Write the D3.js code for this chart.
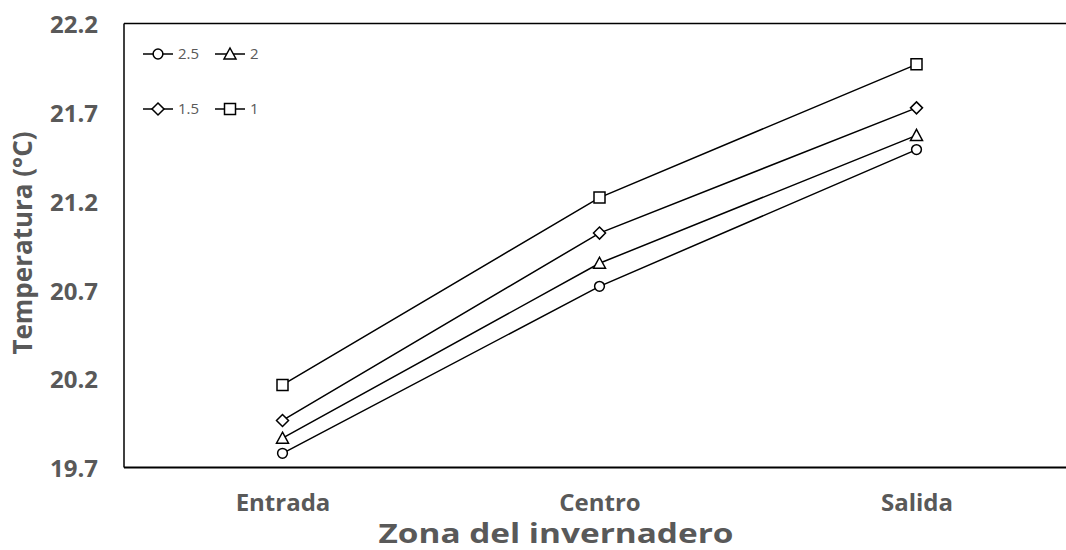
<!DOCTYPE html>
<html><head><meta charset="utf-8">
<script src="https://cdn.jsdelivr.net/npm/d3@7"></script>
<style>body{margin:0;background:#fff}svg{display:block}</style>
</head><body>
<svg id="c" width="1066" height="550"></svg>
<script>
const categories = ["Entrada", "Centro", "Salida"];
const seriesNames = ["2.5", "2", "1.5", "1"];
const s2_5 = [19.78, 20.72, 21.49];
const s2 = [19.865, 20.85, 21.57];
const s1_5 = [19.965, 21.02, 21.725];
const s1 = [20.165, 21.22, 21.97];
const yTicks = [19.7, 20.2, 20.7, 21.2, 21.7, 22.2];
const markers = ["circle", "triangle", "diamond", "square"];

const series = [s2_5, s2, s1_5, s1].map((v, i) => ({name: seriesNames[i], values: v, marker: markers[i]}));

const svg = d3.select("#c");
const pLeft = 124, pRight = 1075, pTop = 23.5, pBottom = 467.5;
const x = d3.scalePoint().domain(categories).range([pLeft, pRight]).padding(0.5);
const y = d3.scaleLinear().domain([19.7, 22.2]).range([pBottom, pTop]);
const grey = "#595959";
const font = "'Open Sans', sans-serif";

// frame
svg.append("line").attr("x1", pLeft).attr("x2", 1066).attr("y1", pTop).attr("y2", pTop).attr("stroke", "#000").attr("stroke-width", 1.5);
svg.append("line").attr("x1", pLeft).attr("x2", 1066).attr("y1", pBottom).attr("y2", pBottom).attr("stroke", "#000").attr("stroke-width", 2);
svg.append("line").attr("x1", pLeft).attr("x2", pLeft).attr("y1", pTop).attr("y2", pBottom).attr("stroke", "#000").attr("stroke-width", 1.5);

// y axis labels
const ya = svg.append("g").attr("transform", `translate(${pLeft},0)`)
  .call(d3.axisLeft(y).tickValues(yTicks).tickFormat(d3.format(".1f")).tickSize(0).tickPadding(26));
ya.select(".domain").remove();
ya.selectAll("text").attr("fill", grey).attr("font-family", font).attr("font-weight", "bold").attr("font-size", 24).attr("dy", "0.38em");

// x axis labels
const xa = svg.append("g").attr("transform", `translate(0,${pBottom})`)
  .call(d3.axisBottom(x).tickSize(0).tickPadding(26));
xa.select(".domain").remove();
xa.selectAll("text").attr("fill", grey).attr("font-family", font).attr("font-weight", "bold").attr("font-size", 24);

// titles
svg.append("text").attr("x", 556).attr("y", 543).attr("text-anchor", "middle")
  .attr("fill", grey).attr("font-family", font).attr("font-weight", "bold").attr("font-size", 26)
  .attr("textLength", 355).attr("lengthAdjust", "spacingAndGlyphs")
  .text("Zona del invernadero");
svg.append("text").attr("transform", "translate(32,243) rotate(-90)").attr("text-anchor", "middle")
  .attr("fill", grey).attr("font-family", font).attr("font-weight", "bold").attr("font-size", 26)
  .text("Temperatura (°C)");

function drawMarker(g, type) {
  const p = g.append("path").attr("fill", "#fff").attr("stroke", "#000").attr("stroke-width", 1.5);
  if (type === "circle") p.attr("d", d3.symbol(d3.symbolCircle, 75)());
  else if (type === "triangle") p.attr("d", "M0,-6L6,5L-6,5Z");
  else if (type === "diamond") p.attr("d", "M0,-6L6,0L0,6L-6,0Z");
  else p.attr("d", "M-5.5,-5.5H5.5V5.5H-5.5Z");
}

const line = d3.line().x((d, i) => x(categories[i])).y(d => y(d));
series.forEach(s => {
  svg.append("path").attr("d", line(s.values)).attr("fill", "none").attr("stroke", "#000").attr("stroke-width", 1.5);
  s.values.forEach((v, i) => {
    const g = svg.append("g").attr("transform", `translate(${x(categories[i])},${y(v)})`);
    drawMarker(g, s.marker);
  });
});

// legend
const legPos = [[143, 54], [215, 54], [143, 109], [215, 109]];
series.forEach((s, i) => {
  const [lx, ly] = legPos[i];
  const g = svg.append("g").attr("transform", `translate(${lx},${ly})`);
  g.append("line").attr("x1", 0).attr("x2", 30).attr("stroke", "#000").attr("stroke-width", 1.5);
  const m = g.append("g").attr("transform", "translate(15,0)");
  drawMarker(m, s.marker);
  g.append("text").attr("x", 35).attr("dy", "0.36em").attr("fill", grey)
    .attr("font-family", font).attr("font-size", 15).text(s.name);
});
</script>
</body></html>
